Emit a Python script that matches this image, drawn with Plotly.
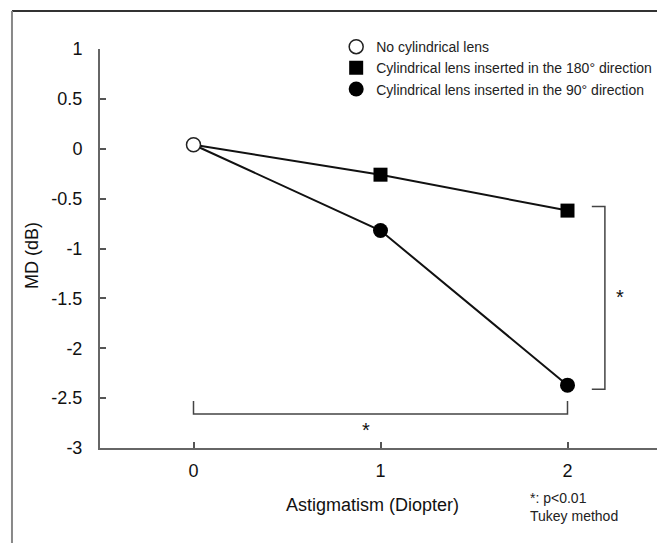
import plotly.graph_objects as go

# ---- data ----
astigmatism = [0, 1, 2]
md_no_lens = [0.04]
md_180 = [0.04, -0.26, -0.62]
md_90 = [0.04, -0.82, -2.37]
x_ticks = [0, 1, 2]
x_tick_labels = ["0", "1", "2"]
y_ticks = [1, 0.5, 0, -0.5, -1, -1.5, -2, -2.5, -3]
y_tick_labels = ["1", "0.5", "0", "-0.5", "-1", "-1.5", "-2", "-2.5", "-3"]
legend_names = ["No cylindrical lens",
                "Cylindrical lens inserted in the 180° direction",
                "Cylindrical lens inserted in the 90° direction"]

FONT = "Liberation Sans, Arial, sans-serif"
fig = go.Figure()

# connecting lines
fig.add_trace(go.Scatter(x=astigmatism, y=md_180, mode="lines",
                         line=dict(color="#111", width=2), showlegend=False, hoverinfo="skip"))
fig.add_trace(go.Scatter(x=astigmatism, y=md_90, mode="lines",
                         line=dict(color="#111", width=2), showlegend=False, hoverinfo="skip"))
# markers
fig.add_trace(go.Scatter(x=astigmatism[:1], y=md_no_lens, mode="markers", name=legend_names[0],
                         marker=dict(symbol="circle", size=14, color="white",
                                     line=dict(color="#222", width=1.5))))
fig.add_trace(go.Scatter(x=astigmatism[1:], y=md_180[1:], mode="markers", name=legend_names[1],
                         marker=dict(symbol="square", size=14, color="black",
                                     line=dict(color="black", width=0))))
fig.add_trace(go.Scatter(x=astigmatism[1:], y=md_90[1:], mode="markers", name=legend_names[2],
                         marker=dict(symbol="circle", size=15, color="black",
                                     line=dict(color="black", width=0))))

shapes = []
# outer frame
shapes.append(dict(type="line", xref="paper", yref="paper", x0=-0.1569, x1=1.1, y0=1.0952, y1=1.0952,
                   line=dict(color="#333", width=2)))
shapes.append(dict(type="line", xref="paper", yref="paper", x0=-0.1569, x1=-0.1569, y0=1.0952, y1=-0.4,
                   line=dict(color="#888", width=2)))
# right significance bracket
shapes.append(dict(type="path", xref="x", yref="y",
                   path="M 2.13,-0.58 L 2.2,-0.58 L 2.2,-2.41 L 2.13,-2.41",
                   line=dict(color="#444", width=1.5)))
# bottom significance bracket
shapes.append(dict(type="path", xref="x", yref="y",
                   path="M 0,-2.53 L 0,-2.66 L 2,-2.66 L 2,-2.53",
                   line=dict(color="#444", width=1.5)))

annotations = [
    dict(text="*", x=2.28, y=-1.49, xref="x", yref="y", showarrow=False,
         font=dict(size=20, color="#111", family=FONT)),
    dict(text="*", x=0.92, y=-2.82, xref="x", yref="y", showarrow=False,
         font=dict(size=20, color="#111", family=FONT)),
    dict(text="Astigmatism (Diopter)", x=0.4866, y=-0.1429, xref="paper", yref="paper",
         showarrow=False, xanchor="center", yanchor="middle",
         font=dict(size=18, color="#111", family=FONT)),
    dict(text="MD (dB)", x=-0.1212, y=0.481, xref="paper", yref="paper", textangle=-90,
         showarrow=False, xanchor="center", yanchor="middle",
         font=dict(size=18, color="#111", family=FONT)),
    dict(text="*: p<0.01<br>Tukey method", x=0.763, y=-0.148, xref="paper", yref="paper",
         showarrow=False, xanchor="left", yanchor="middle", align="left",
         font=dict(size=14, color="#222", family=FONT)),
]

fig.update_layout(
    width=657, height=535,
    margin=dict(l=92, r=4, t=41, b=95),
    paper_bgcolor="white", plot_bgcolor="white",
    font=dict(family=FONT, color="#111"),
    shapes=shapes, annotations=annotations,
    legend=dict(x=0.421, y=1.045, xanchor="left", yanchor="top",
                bgcolor="rgba(0,0,0,0)", font=dict(size=14, color="#222", family=FONT),
                tracegroupgap=0, itemwidth=30),
    xaxis=dict(range=[-0.5, 2.5], tickvals=x_ticks, ticktext=x_tick_labels,
               ticks="inside", ticklen=6, tickcolor="#555", tickwidth=1.5,
               showline=True, linecolor="#666", linewidth=2,
               showgrid=False, zeroline=False, tickfont=dict(size=18, color="#111"),
               ticklabelstandoff=5),
    yaxis=dict(range=[-3, 1], tickvals=y_ticks, ticktext=y_tick_labels,
               ticks="inside", ticklen=6, tickcolor="#555", tickwidth=1.5,
               showline=True, linecolor="#666", linewidth=2,
               showgrid=False, zeroline=False, tickfont=dict(size=18, color="#111"),
               ticklabelstandoff=12),
)

fig.write_html("out.html")
